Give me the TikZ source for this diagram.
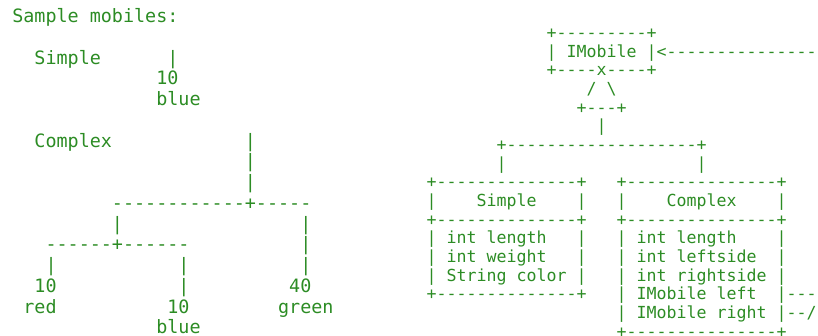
\documentclass[tikz,border=0pt]{standalone}
\usepackage{fontspec}
\newfontfamily\asciifont{DejaVu Sans Mono}
\definecolor{termgreen}{RGB}{44,140,36}
\frenchspacing
\tikzset{
  asciitext/.style={text=termgreen, inner sep=0pt, outer sep=0pt, anchor=base west, font=\asciifont},
  leftpanel/.style={asciitext, font=\asciifont\fontsize{18.4}{20.75}\selectfont},
  rightpanel/.style={asciitext, font=\asciifont\fontsize{16.61}{18.67}\selectfont}
}
\newcommand\Lrow[3]{\node[leftpanel] (#1) at (12.3,{22.6+20.75*#2}) {#3};}
\newcommand\Rrow[3]{\node[rightpanel] (#1) at (426.7,{38.5+18.67*#2}) {#3};}
\begin{document}
\begin{tikzpicture}[x=1pt,y=-1pt]
\useasboundingbox (0,0) rectangle (818,335);
% left panel: sample mobiles
\Lrow{l0}{0}{Sample~mobiles:}
\Lrow{l2}{2}{~~Simple~~~~~~|}
\Lrow{l3}{3}{~~~~~~~~~~~~~10}
\Lrow{l4}{4}{~~~~~~~~~~~~~blue}
\Lrow{l6}{6}{~~Complex~~~~~~~~~~~~|}
\Lrow{l7}{7}{~~~~~~~~~~~~~~~~~~~~~|}
\Lrow{l8}{8}{~~~~~~~~~~~~~~~~~~~~~|}
\Lrow{l9}{9}{~~~~~~~~~------------+-----}
\Lrow{l10}{10}{~~~~~~~~~|~~~~~~~~~~~~~~~~|}
\Lrow{l11}{11}{~~~------+------~~~~~~~~~~|}
\Lrow{l12}{12}{~~~|~~~~~~~~~~~|~~~~~~~~~~|}
\Lrow{l13}{13}{~~10~~~~~~~~~~~|~~~~~~~~~40}
\Lrow{l14}{14}{~red~~~~~~~~~~10~~~~~~~~green}
\Lrow{l15}{15}{~~~~~~~~~~~~~blue}
% right panel: class diagram
\Rrow{r0}{0}{~~~~~~~~~~~~+---------+}
\Rrow{r1}{1}{~~~~~~~~~~~~|~IMobile~|<---------------}
\Rrow{r2}{2}{~~~~~~~~~~~~+----x----+}
\Rrow{r3}{3}{~~~~~~~~~~~~~~~~/~\textbackslash}
\Rrow{r4}{4}{~~~~~~~~~~~~~~~+---+}
\Rrow{r5}{5}{~~~~~~~~~~~~~~~~~|}
\Rrow{r6}{6}{~~~~~~~+-------------------+}
\Rrow{r7}{7}{~~~~~~~|~~~~~~~~~~~~~~~~~~~|}
\Rrow{r8}{8}{+--------------+~~~+---------------+}
\Rrow{r9}{9}{|~~~~Simple~~~~|~~~|~~~~Complex~~~~|}
\Rrow{r10}{10}{+--------------+~~~+---------------+}
\Rrow{r11}{11}{|~int~length~~~|~~~|~int~length~~~~|}
\Rrow{r12}{12}{|~int~weight~~~|~~~|~int~leftside~~|}
\Rrow{r13}{13}{|~String~color~|~~~|~int~rightside~|}
\Rrow{r14}{14}{+--------------+~~~|~IMobile~left~~|---}
\Rrow{r15}{15}{~~~~~~~~~~~~~~~~~~~|~IMobile~right~|--/}
\Rrow{r16}{16}{~~~~~~~~~~~~~~~~~~~+---------------+}
\end{tikzpicture}
\end{document}
